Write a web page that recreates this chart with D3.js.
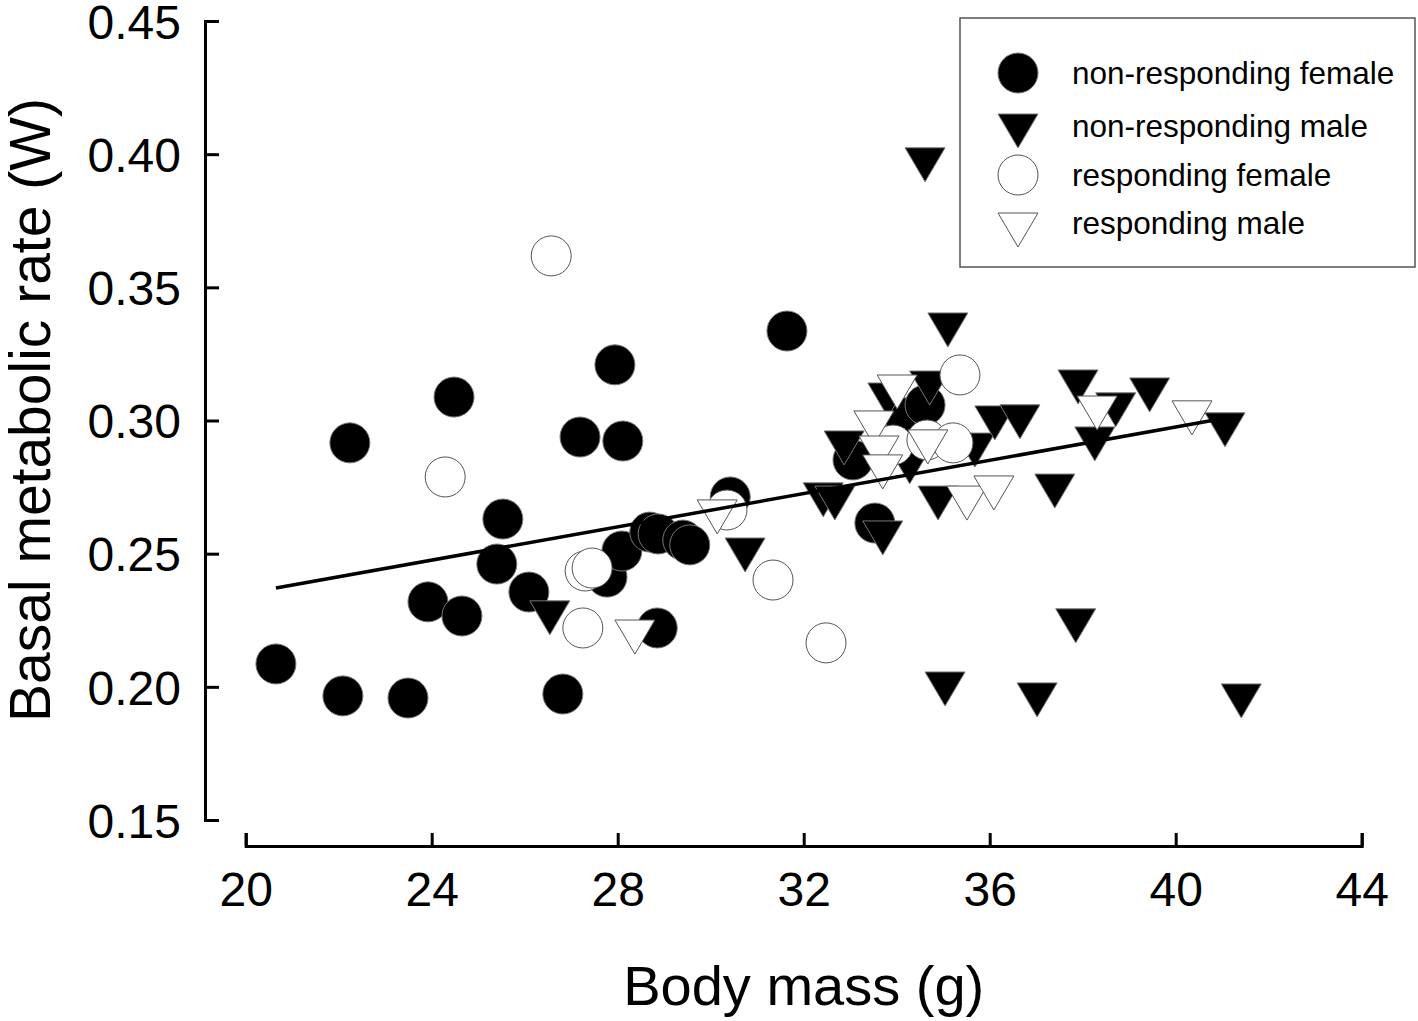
<!DOCTYPE html>
<html>
<head>
<meta charset="utf-8">
<script src="https://cdn.jsdelivr.net/npm/d3@7"></script>
<style>
  body { margin: 0; background: #fff; }
  text { font-family: "Liberation Sans", Arial, sans-serif; fill: #000; }
</style>
</head>
<body>
<script>
// data: body mass (g) and BMR (W)
const nrFemaleMass = [20.65, 22.09, 22.24, 23.49, 23.92, 24.48, 24.65, 25.40, 25.53, 26.09, 26.82, 27.19, 27.77, 28.09,
  27.94, 28.11, 28.69, 28.87, 29.40, 29.55, 28.85, 30.42, 31.64, 33.06, 33.53, 34.18, 34.61];
const nrFemaleBmr = [0.2086, 0.1966, 0.2916, 0.1958, 0.2319, 0.3088, 0.2266, 0.2461, 0.2630, 0.2356, 0.1973, 0.2938, 0.2412, 0.2510,
  0.3209, 0.2923, 0.2581, 0.2574, 0.2551, 0.2533, 0.2221, 0.2713, 0.3336, 0.2852, 0.2615, 0.3010, 0.3058];

const nrMaleMass = [34.61, 35.10, 34.71, 26.54, 30.74, 32.42, 32.67, 32.87, 33.81, 34.28, 33.70, 34.89, 35.04, 35.68,
  36.11, 36.65, 37.02, 37.40, 37.85, 37.90, 38.26, 38.71, 39.44, 41.06, 41.41];
const nrMaleBmr = [0.3960, 0.3340, 0.3122, 0.2259, 0.2495, 0.2702, 0.2690, 0.2897, 0.3077, 0.2826, 0.2559, 0.2690, 0.1992, 0.2889,
  0.2991, 0.2995, 0.1951, 0.2735, 0.2229, 0.3126, 0.2912, 0.3040, 0.3096, 0.2965, 0.1947];

const rFemaleMass = [26.57, 24.29, 27.30, 27.45, 27.25, 30.35, 31.34, 32.48, 33.92, 34.65, 35.21, 35.36];
const rFemaleBmr = [0.3618, 0.2788, 0.2435, 0.2446, 0.2221, 0.2664, 0.2401, 0.2165, 0.2908, 0.2927, 0.2916, 0.3171];

const rMaleMass = [28.37, 30.14, 33.51, 33.62, 33.70, 34.01, 34.67, 35.51, 36.09, 38.31, 40.35];
const rMaleBmr = [0.2187, 0.2638, 0.2972, 0.2878, 0.2807, 0.3107, 0.2901, 0.2690, 0.2728, 0.3028, 0.3010];

// regression line end points
const fitMass = [20.65, 41.2];
const fitBmr = [0.2371, 0.3013];

const xTicks = [20, 24, 28, 32, 36, 40, 44];
const yTicks = [0.15, 0.20, 0.25, 0.30, 0.35, 0.40, 0.45];
const legendLabels = ["non-responding female", "non-responding male", "responding female", "responding male"];

const width = 1418, height = 1021;
const svg = d3.select("body").append("svg")
    .attr("width", width)
    .attr("height", height);

const x = d3.scaleLinear().domain([20, 44]).range([245.7, 1361.7]);
const y = d3.scaleLinear().domain([0.15, 0.45]).range([820, 21]);

// axes (offset, SigmaPlot style)
const xAxis = svg.append("g")
    .attr("transform", "translate(0,846)")
    .call(d3.axisBottom(x).tickValues(xTicks).tickSize(-13).tickPadding(26).tickFormat(d3.format("d")));
const yAxis = svg.append("g")
    .attr("transform", "translate(205,0)")
    .call(d3.axisLeft(y).tickValues(yTicks).tickSize(-14).tickPadding(24).tickFormat(d3.format(".2f")));

[xAxis, yAxis].forEach(g => {
  g.select(".domain").attr("stroke", "#000").attr("stroke-width", 3);
  g.selectAll(".tick line").attr("stroke", "#000").attr("stroke-width", 3);
  g.selectAll(".tick text").attr("font-size", 48).attr("font-family", "Liberation Sans, Arial, sans-serif").attr("fill", "#000");
});
xAxis.selectAll(".tick text").attr("dy", "0.71em");
yAxis.selectAll(".tick text").attr("dy", "0.36em");

// axis titles
svg.append("text")
    .attr("x", x(32)).attr("y", 1005)
    .attr("text-anchor", "middle")
    .attr("font-size", 56)
    .text("Body mass (g)");
svg.append("text")
    .attr("transform", "translate(50,410) rotate(-90)")
    .attr("text-anchor", "middle")
    .attr("font-size", 57)
    .text("Basal metabolic rate (W)");

// symbols
const R = 20, TW = 40, TH = 34;
const triPath = (cx, cy) => `M${cx - TW / 2},${cy - TH / 2}L${cx + TW / 2},${cy - TH / 2}L${cx},${cy + TH / 2}Z`;

function drawCircles(mass, bmr, fill, stroke) {
  svg.append("g").selectAll("circle")
    .data(d3.zip(mass, bmr))
    .join("circle")
    .attr("cx", d => x(d[0]))
    .attr("cy", d => y(d[1]))
    .attr("r", R)
    .attr("fill", fill)
    .attr("stroke", stroke)
    .attr("stroke-width", 1);
}
function drawTriangles(mass, bmr, fill, stroke) {
  svg.append("g").selectAll("path")
    .data(d3.zip(mass, bmr))
    .join("path")
    .attr("d", d => triPath(x(d[0]), y(d[1])))
    .attr("fill", fill)
    .attr("stroke", stroke)
    .attr("stroke-width", 1);
}

drawCircles(nrFemaleMass, nrFemaleBmr, "#000", "#777");
drawTriangles(nrMaleMass, nrMaleBmr, "#000", "#777");
drawCircles(rFemaleMass, rFemaleBmr, "#fff", "#555");
drawTriangles(rMaleMass, rMaleBmr, "#fff", "#555");

// regression line
svg.append("path")
    .datum(d3.zip(fitMass, fitBmr))
    .attr("d", d3.line().x(d => x(d[0])).y(d => y(d[1])))
    .attr("stroke", "#000")
    .attr("stroke-width", 3.5)
    .attr("fill", "none");

// legend
const legend = svg.append("g");
legend.append("rect")
    .attr("x", 960).attr("y", 18)
    .attr("width", 455).attr("height", 249)
    .attr("fill", "#fff")
    .attr("stroke", "#555")
    .attr("stroke-width", 1.5);

const legendY = [73, 131, 175, 230];
const legendTextY = [84, 137, 186, 234];
const legendStyle = [
  {shape: "circle", fill: "#000", stroke: "#777"},
  {shape: "tri", fill: "#000", stroke: "#777"},
  {shape: "circle", fill: "#fff", stroke: "#555"},
  {shape: "tri", fill: "#fff", stroke: "#555"}
];
legendLabels.forEach((lab, i) => {
  const s = legendStyle[i];
  if (s.shape === "circle") {
    legend.append("circle").attr("cx", 1018).attr("cy", legendY[i]).attr("r", R)
      .attr("fill", s.fill).attr("stroke", s.stroke).attr("stroke-width", 1);
  } else {
    legend.append("path").attr("d", triPath(1018, legendY[i]))
      .attr("fill", s.fill).attr("stroke", s.stroke).attr("stroke-width", 1);
  }
  legend.append("text")
    .attr("x", 1072).attr("y", legendTextY[i])
    .attr("font-size", 31.5)
    .text(lab);
});
</script>
</body>
</html>
